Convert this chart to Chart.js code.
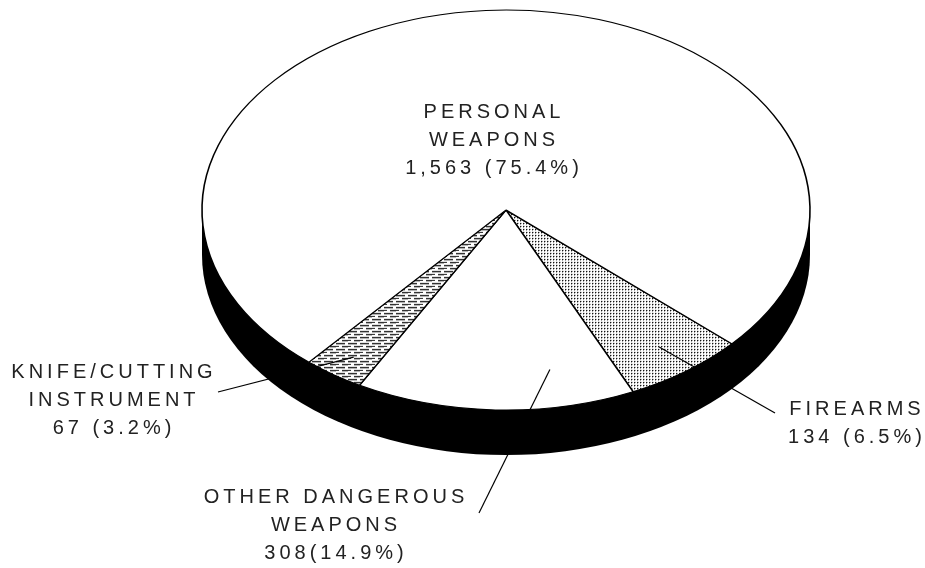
<!DOCTYPE html>
<html>
<head>
<meta charset="utf-8">
<script src="https://cdn.jsdelivr.net/npm/chart.js@4"></script>
<style>
  html, body { margin: 0; padding: 0; background: #fff; }
  #wrap { width: 925px; height: 568px; position: relative; }
</style>
</head>
<body>
<div id="wrap"><canvas id="weaponChart"></canvas></div>
<script>
// Data (slices go clockwise from the right edge of the front group)
const categories = ["FIREARMS", "OTHER DANGEROUS WEAPONS", "KNIFE/CUTTING INSTRUMENT", "PERSONAL WEAPONS"];
const counts = [134, 308, 67, 1563];
const percents = [6.5, 14.9, 3.2, 75.4];
const labelLines = [["FIREARMS"], ["OTHER DANGEROUS", "WEAPONS"], ["KNIFE/CUTTING", "INSTRUMENT"], ["PERSONAL", "WEAPONS"]];
const valueLabels = ["134 (6.5%)", "308(14.9%)", "67 (3.2%)", "1,563 (75.4%)"];

// 3D look
const TILT = 0.658;
const DEPTH = 45;

function makePattern(w, h, draw) {
  const c = document.createElement("canvas");
  c.width = w;
  c.height = h;
  const g = c.getContext("2d");
  g.fillStyle = "#fff";
  g.fillRect(0, 0, w, h);
  draw(g);
  const p = g.createPattern(c, "repeat");
  // undo the vertical squash so the texture stays square
  p.setTransform(new DOMMatrix([1, 0, 0, 1 / TILT, 0, 0]));
  return p;
}

const dots = makePattern(3, 3, g => {
  g.fillStyle = "#000";
  g.fillRect(1, 1, 1, 1);
  g.fillStyle = "#999";
  g.fillRect(2, 1, 1, 1);
  g.fillRect(1, 2, 1, 1);
});
const hatch = makePattern(12, 6, g => {
  g.fillStyle = "#222";
  g.fillRect(0, 1, 9, 1);
  g.fillRect(6, 4, 6, 1);
  g.fillRect(0, 4, 3, 1);
  g.fillStyle = "#aaa";
  g.fillRect(0, 2, 9, 1);
  g.fillRect(6, 5, 6, 1);
});

// label layout: centre x, first baseline, leader end, leader start inside slice
const labelLayout = [
  { x: 855, y: 415, end: [775, 413], t: 0.5, rho: 0.85 },
  { x: 334, y: 503, end: [479, 513], t: 0.27, rho: 0.81 },
  { x: 112, y: 378, end: [218, 392], t: 0.47, rho: 0.89 },
  { x: 492, y: 118 }
];

const tiltPlugin = {
  id: "tilt",
  beforeDatasetsDraw(chart) {
    const ctx = chart.ctx;
    const arc = chart.getDatasetMeta(0).data[0];
    const { x, y, outerRadius: r } = arc;
    ctx.save();
    // side wall
    ctx.fillStyle = "#000";
    ctx.beginPath();
    ctx.ellipse(x, y + DEPTH, r, r * TILT, 0, 0, Math.PI * 2);
    ctx.fill();
    ctx.fillRect(x - r, y, r * 2, DEPTH);
    // squash the top face
    ctx.translate(0, y);
    ctx.scale(1, TILT);
    ctx.translate(0, -y);
  },
  afterDatasetsDraw(chart) {
    const ctx = chart.ctx;
    ctx.restore();
    const meta = chart.getDatasetMeta(0);
    const { x, y, outerRadius: r } = meta.data[0];

    ctx.save();
    ctx.strokeStyle = "#000";
    ctx.lineWidth = 1.2;
    labelLayout.forEach((lp, i) => {
      if (!lp.end) return;
      const el = meta.data[i];
      const a = el.startAngle + lp.t * (el.endAngle - el.startAngle);
      ctx.beginPath();
      ctx.moveTo(x + lp.rho * r * Math.cos(a), y + lp.rho * r * TILT * Math.sin(a));
      ctx.lineTo(lp.end[0], lp.end[1]);
      ctx.stroke();
    });

    ctx.fillStyle = "#222";
    ctx.font = '20px "Liberation Sans", Arial, sans-serif';
    ctx.letterSpacing = "4px";
    ctx.textAlign = "center";
    ctx.textBaseline = "alphabetic";
    labelLayout.forEach((lp, i) => {
      const lines = labelLines[i].concat([valueLabels[i]]);
      lines.forEach((t, j) => ctx.fillText(t, lp.x + 2, lp.y + j * 27.8));
    });
    ctx.restore();
  }
};

const chart = new Chart(document.getElementById("weaponChart"), {
  type: "pie",
  data: {
    labels: categories,
    datasets: [{
      data: counts,
      backgroundColor: [dots, "#fff", hatch, "#fff"],
      borderColor: "#000",
      borderWidth: 1.6,
      clip: false
    }]
  },
  options: {
    responsive: true,
    maintainAspectRatio: false,
    animation: false,
    radius: 304,
    rotation: 132,
    layout: { padding: { left: 87, right: 0, top: 0, bottom: 148 } },
    plugins: {
      legend: { display: false },
      tooltip: { enabled: false }
    }
  },
  plugins: [tiltPlugin]
});
</script>
</body>
</html>
